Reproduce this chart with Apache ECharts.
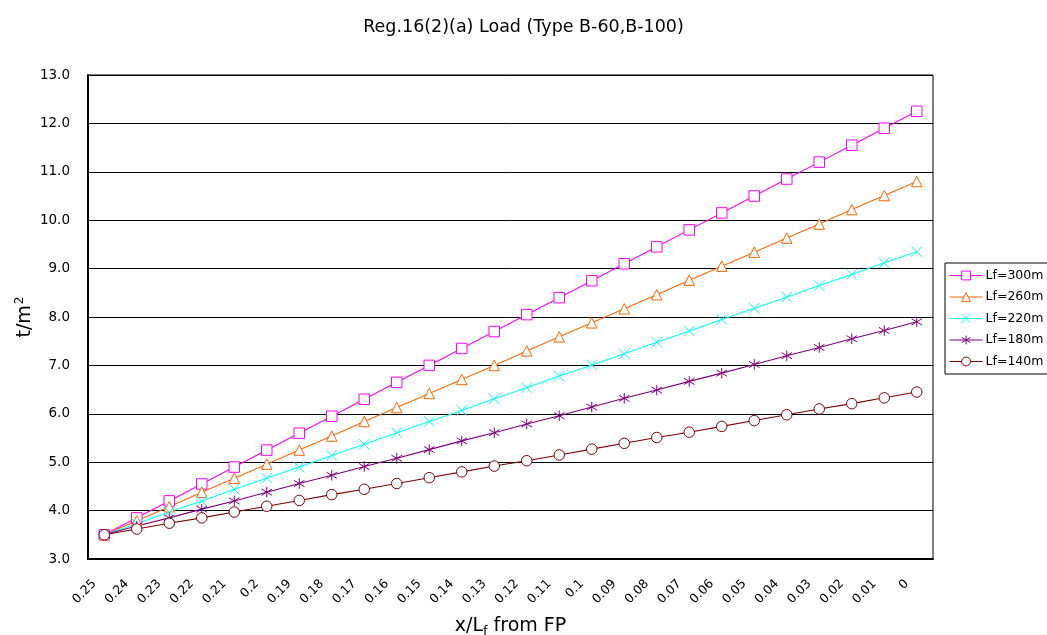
<!DOCTYPE html>
<html><head><meta charset="utf-8">
<script src="https://cdn.jsdelivr.net/npm/echarts@6/dist/echarts.min.js"></script>
<style>html,body{margin:0;padding:0;background:#fff}#c{width:1047px;height:635px}</style>
</head><body><div id="c"></div>
<script>
const categories = ['0.25','0.24','0.23','0.22','0.21','0.2','0.19','0.18','0.17','0.16','0.15','0.14','0.13','0.12','0.11','0.1','0.09','0.08','0.07','0.06','0.05','0.04','0.03','0.02','0.01','0'];
const lf300 = [3.5,3.85,4.2,4.55,4.9,5.25,5.6,5.95,6.3,6.65,7.0,7.35,7.7,8.05,8.4,8.75,9.1,9.45,9.8,10.15,10.5,10.85,11.2,11.55,11.9,12.25];
const lf260 = [3.5,3.79,4.08,4.38,4.67,4.96,5.25,5.54,5.84,6.13,6.42,6.71,7.0,7.3,7.59,7.88,8.17,8.46,8.76,9.05,9.34,9.63,9.92,10.22,10.51,10.8];
const lf220 = [3.5,3.73,3.97,4.2,4.44,4.67,4.9,5.14,5.37,5.61,5.84,6.07,6.31,6.54,6.78,7.01,7.24,7.48,7.71,7.95,8.18,8.41,8.65,8.88,9.12,9.35];
const lf180 = [3.5,3.68,3.85,4.03,4.2,4.38,4.56,4.73,4.91,5.08,5.26,5.44,5.61,5.79,5.96,6.14,6.32,6.49,6.67,6.84,7.02,7.2,7.37,7.55,7.72,7.9];
const lf140 = [3.5,3.62,3.74,3.85,3.97,4.09,4.21,4.33,4.44,4.56,4.68,4.8,4.92,5.03,5.15,5.27,5.39,5.51,5.62,5.74,5.86,5.98,6.1,6.21,6.33,6.45];
const seriesNames = ['Lf=300m','Lf=260m','Lf=220m','Lf=180m','Lf=140m'];
const seriesData = [lf300, lf260, lf220, lf180, lf140];
const colors = ['#FF00FF','#FF6600','#00FFFF','#800080','#800000'];
const symbols = ['rect','triangle','path://M0,0L10,10M10,0L0,10','path://M5,0L5,10M0,2L10,8M10,2L0,8','circle'];
const hollow = [true,true,false,false,true];
const FONT = '"DejaVu Sans", sans-serif';
const chart = echarts.init(document.getElementById('c'), null, {renderer:'canvas'});
chart.setOption({
  animation:false,
  backgroundColor:'#fff',
  title:{text:'Reg.16(2)(a) Load (Type B-60,B-100)', left:'center', top:13,
    textStyle:{fontFamily:FONT, fontSize:17.5, fontWeight:'normal', color:'#000'}},
  grid:{left:88, right:114, top:75, bottom:76, show:true, borderColor:'#000', borderWidth:1,
    containLabel:false, outerBoundsMode:'none'},
  legend:{orient:'vertical', left:945, top:263, width:120, padding:[6,30,6,4], itemGap:8.5,
    itemWidth:33, itemHeight:11, borderColor:'#000', borderWidth:1, backgroundColor:'#fff',
    itemStyle:{borderWidth:1}, lineStyle:{width:1.1},
    textStyle:{fontFamily:FONT, fontSize:12.5, color:'#000', padding:[0,0,0,-2]},
    data:seriesNames},
  xAxis:{type:'category', data:categories, boundaryGap:true,
    name:'x/L{sub|f} from FP', nameLocation:'middle', nameGap:56,
    nameTextStyle:{fontFamily:FONT, fontSize:19, color:'#000',
      rich:{sub:{fontSize:13, verticalAlign:'bottom', padding:[10,0,0,0], fontFamily:FONT}}},
    axisLine:{lineStyle:{color:'#000', width:2}},
    axisTick:{inside:true, length:5, lineStyle:{color:'#000'}},
    axisLabel:{rotate:45, fontFamily:FONT, fontSize:12.5, color:'#000', margin:13, interval:0,
      padding:[0,14,0,0]}},
  yAxis:{type:'value', min:3, max:13, interval:1,
    name:'t/m{sup|2}', nameLocation:'middle', nameGap:52, nameMoveOverlap:false,
    nameTextStyle:{fontFamily:FONT, fontSize:19, color:'#000',
      rich:{sup:{fontSize:12, verticalAlign:'top', padding:[0,0,10,1], fontFamily:FONT}}},
    axisLine:{show:true, lineStyle:{color:'#000', width:2}},
    axisTick:{show:true, inside:true, length:5, lineStyle:{color:'#000'}},
    axisLabel:{fontFamily:FONT, fontSize:13.5, color:'#000', margin:18, formatter:v=>v.toFixed(1)},
    splitLine:{lineStyle:{color:'#000', width:1}}},
  series: seriesData.map((d,i)=>({
    name:seriesNames[i], type:'line', data:d, symbol:symbols[i], symbolSize:10.5,
    showAllSymbol:true, color:colors[i],
    lineStyle:{color:colors[i], width:1.1},
    itemStyle:{color: hollow[i] ? '#fff' : colors[i], borderColor:colors[i], borderWidth:1}
  }))
});
</script></body></html>
